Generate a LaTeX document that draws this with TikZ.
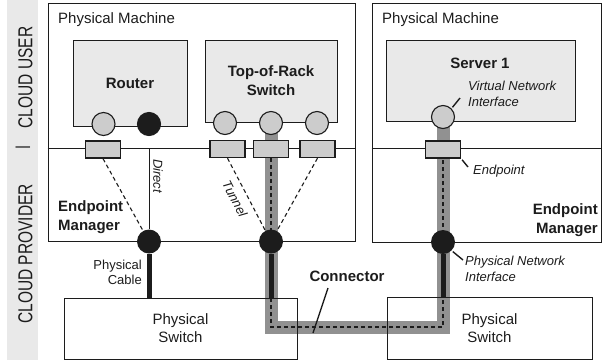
\documentclass[tikz,border=0pt]{standalone}
\usepackage{fontspec}
\setmainfont{Liberation Sans}
\usepackage{color}
\definecolor{boxgrey}{RGB}{233,233,233}
\definecolor{portgrey}{RGB}{204,204,204}
\definecolor{bandgrey}{RGB}{145,145,145}
\definecolor{ink}{RGB}{28,28,28}
\pgfdeclarelayer{bg}
\pgfsetlayers{bg,main}

\begin{document}
\begin{tikzpicture}[x=1pt,y=-1pt,
  every node/.style={inner sep=0pt,text=ink},
  box/.style={draw=ink,line width=1pt},
  vbox/.style={box,fill=boxgrey,align=center,font=\bfseries\fontsize{15}{19}\selectfont},
  port/.style={circle,draw=ink,line width=1.1pt,fill=portgrey,minimum size=23pt},
  nic/.style={circle,fill=ink,minimum size=24pt},
  endpt/.style={draw=ink,line width=1.3pt,fill=portgrey,minimum width=35pt,minimum height=17pt},
  tunnel/.style={draw=ink,line width=1.1pt,dash pattern=on 4pt off 3pt},
  cable/.style={draw=ink,line width=5pt},
  band/.style={draw=bandgrey,line width=13pt},
  lead/.style={draw=ink,line width=1.4pt},
  pmtext/.style={font=\fontsize{15}{18}\selectfont,align=center},
  boldtext/.style={font=\bfseries\fontsize{15}{19}\selectfont},
  notetext/.style={font=\itshape\fontsize{13}{16}\selectfont,align=left},
  sidetext/.style={font=\fontsize{15.5}{18}\selectfont,rotate=90}]
\useasboundingbox (0,0) rectangle (603,360);

% user / provider band
\fill[boxgrey] (7,0) rectangle (38,360);
\node[sidetext] (user) at (25.5,77.5) {\scalebox{1}[1.3]{CLOUD USER}};
\node[sidetext] (bar) at (23,147) {|};
\node[sidetext] (prov) at (25.5,254) {\scalebox{1}[1.3]{CLOUD PROVIDER}};

% physical machines
\node[box,minimum width=307pt,minimum height=238pt] (pm1) at (201.5,122) {};
\node[box,minimum width=229pt,minimum height=239pt] (pm2) at (486.5,122.5) {};
\node[pmtext,anchor=base west] (pm1t) at (58,23) {Physical Machine};
\node[pmtext,anchor=base west] (pm2t) at (382,23) {Physical Machine};
\coordinate (div) at (0,148);
\draw[box] (pm1.west |- div) -- (pm1.east |- div);
\draw[box] (pm2.west |- div) -- (pm2.east |- div);

% virtual devices
\node[vbox,minimum width=114pt,minimum height=86pt] (router) at (130,83) {Router};
\node[vbox,minimum width=132pt,minimum height=82pt] (tor) at (271,81) {Top-of-Rack\\Switch};
\node[vbox,minimum width=189pt,minimum height=81pt] (server) at (480.5,80.5) {};
\node[boldtext] (srvt) at (480,63) {Server 1};

% virtual interfaces
\node[port] (rp1) at (103.5,124) {};
\node[port,fill=ink] (rp2) at (149,124) {};
\node[port] (tp1) at (225,123) {};
\node[port] (tp2) at (271,123) {};
\node[port] (tp3) at (317,123) {};
\node[port] (sp) at (443,117) {};

% endpoints
\node[endpt] (re) at (103,149.5) {};
\node[endpt] (te1) at (227.5,149) {};
\node[endpt] (te2) at (271,149) {};
\node[endpt] (te3) at (317.5,149) {};
\node[endpt] (se) at (443,149.5) {};

% physical interfaces and switches
\node[nic] (nic1) at (149,241.5) {};
\node[nic] (nic2) at (271,241.5) {};
\node[nic] (nic3) at (443,242) {};
\node[box,pmtext,minimum width=233pt,minimum height=61pt] (sw1) at (180.5,328.5) {Physical\\Switch};
\node[box,pmtext,minimum width=205pt,minimum height=62pt] (sw2) at (489.5,328) {Physical\\Switch};

% connector
\coordinate (bendL) at (271,327);
\coordinate (bendR) at (443,327);
\begin{pgfonlayer}{bg}
\draw[band] (tp2.center) -- (bendL) -- (bendR) -- (sp.center);
\end{pgfonlayer}
\draw[tunnel] (te2.south) -- (bendL) -- (bendR) -- (se.south);
\draw[tunnel] (re.south) -- (nic1.center);
\draw[tunnel] (te1.south) -- (nic2.center);
\draw[tunnel] (te3.south) -- (nic2.center);
\draw[box] (nic1 |- div) -- (nic1);
\draw[cable] (nic1) -- (nic1 |- sw1.north);
\draw[cable] (nic2) -- (nic2 |- sw1.north);
\draw[cable] (nic3) -- (nic3 |- sw2.north);

% labels
\node[notetext,rotate=-90] (direct) at (158,176) {Direct};
\node[notetext,rotate=-62.6] (tunl) at (235,199) {Tunnel};
\node[font=\fontsize{13}{15}\selectfont,align=right,anchor=east] (cablet) at (142,272) {Physical\\Cable};
\node[boldtext,align=left,anchor=west] (em1) at (58,217.5) {Endpoint\\Manager};
\node[boldtext,align=right,anchor=east] (em2) at (598,220.5) {Endpoint\\Manager};
\node[boldtext] (connt) at (347,276) {Connector};
\coordinate (connA) at (328,288);
\coordinate (connB) at (313,333);
\draw[lead] (connA) -- (connB);
\node[notetext,anchor=west] (vni) at (468,94) {Virtual Network\\Interface};
\coordinate (vniTip) at (460,98);
\draw[lead,shorten <=1.5pt] (sp.north east) -- (vniTip);
\node[notetext,anchor=west] (ept) at (473,171) {Endpoint};
\coordinate (epTip) at (468,167);
\draw[lead,shorten <=1.5pt] (se.south east) -- (epTip);
\node[notetext,anchor=west] (pni) at (465,268.5) {Physical Network\\Interface};
\coordinate (pniTip) at (463,260);
\draw[lead,shorten <=1.5pt] (nic3.south east) -- (pniTip);
\end{tikzpicture}
\end{document}
